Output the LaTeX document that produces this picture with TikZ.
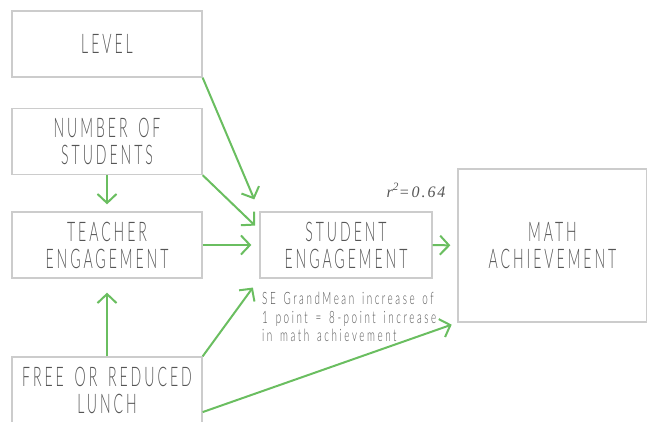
\documentclass[tikz,border=0pt]{standalone}
\usepackage{fontspec}
\newfontfamily\boxfont[FakeStretch=0.52, LetterSpace=11, WordSpace=1.6]{Lato Light}
\newfontfamily\notefont[FakeStretch=0.58, LetterSpace=15, WordSpace=1.5]{Lato Light}
\newfontfamily\rfont[LetterSpace=12]{Liberation Serif}
\definecolor{arrowgreen}{RGB}{106, 190, 96}
\definecolor{boxgray}{RGB}{204, 204, 204}
\definecolor{textgray}{RGB}{85, 85, 85}
\usetikzlibrary{arrows.meta, positioning}

\begin{document}
\begin{tikzpicture}[x=1pt, y=-1pt,
    varbox/.style={draw=boxgray, line width=1.3pt, text=textgray, align=center,
      minimum width=190pt, minimum height=66pt, inner sep=0pt,
      font=\boxfont\fontsize{27}{27}\selectfont},
    path/.style={draw=arrowgreen, line width=2pt, -{Straight Barb[length=9pt, width=19pt]}}]
  \useasboundingbox (0, 0) rectangle (647, 421);

  % Predictor boxes - left column
  \node[varbox] (level) at (107, 44) {LEVEL};
  \node[varbox] (nstud) at (107, 141.5) {NUMBER OF\\STUDENTS};
  \node[varbox] (teach) at (107, 245) {TEACHER\\ENGAGEMENT};
  \node[varbox] (lunch) at (107, 390) {FREE OR REDUCED\\LUNCH};

  % Mediator and outcome
  \node[varbox, minimum width=172pt] (stud) at (346, 245) {STUDENT\\ENGAGEMENT};
  \node[varbox, minimum width=189pt, minimum height=153pt] (math) at (552.5, 245.5) {MATH\\ACHIEVEMENT};

  % Annotations
  \node[text=textgray, font=\rfont\itshape\fontsize{16}{16}\selectfont, anchor=south east]
    (rsq) at (449, 201) {r\textsuperscript{2}=0.64};
  \node[text=textgray, font=\notefont\fontsize{17}{18.5}\selectfont, align=left, anchor=north west, inner sep=0pt]
    (note) at (262, 292) {SE GrandMean increase of\\1 point = 8-point increase\\in math achievement};

  % Paths
  \draw[path, shorten >=13pt] (level.south east) -- (stud.north west);
  \draw[path, shorten >=6pt] (nstud.south east) -- (stud.170);
  \draw[path, shorten >=7pt] (nstud.south) -- (teach.north);
  \draw[path, shorten >=8pt] (teach.east) -- (stud.west);
  \draw[path, shorten >=7pt] (stud.east) -- (math.west);
  \draw[path, shorten >=14pt] (lunch.north) -- (teach.south);
  \draw[path, shorten >=11pt] (lunch.north east) -- (stud.south west);
  \draw[path, shorten >=6pt] (lunch.-13) -- (math.south west);
\end{tikzpicture}
\end{document}
